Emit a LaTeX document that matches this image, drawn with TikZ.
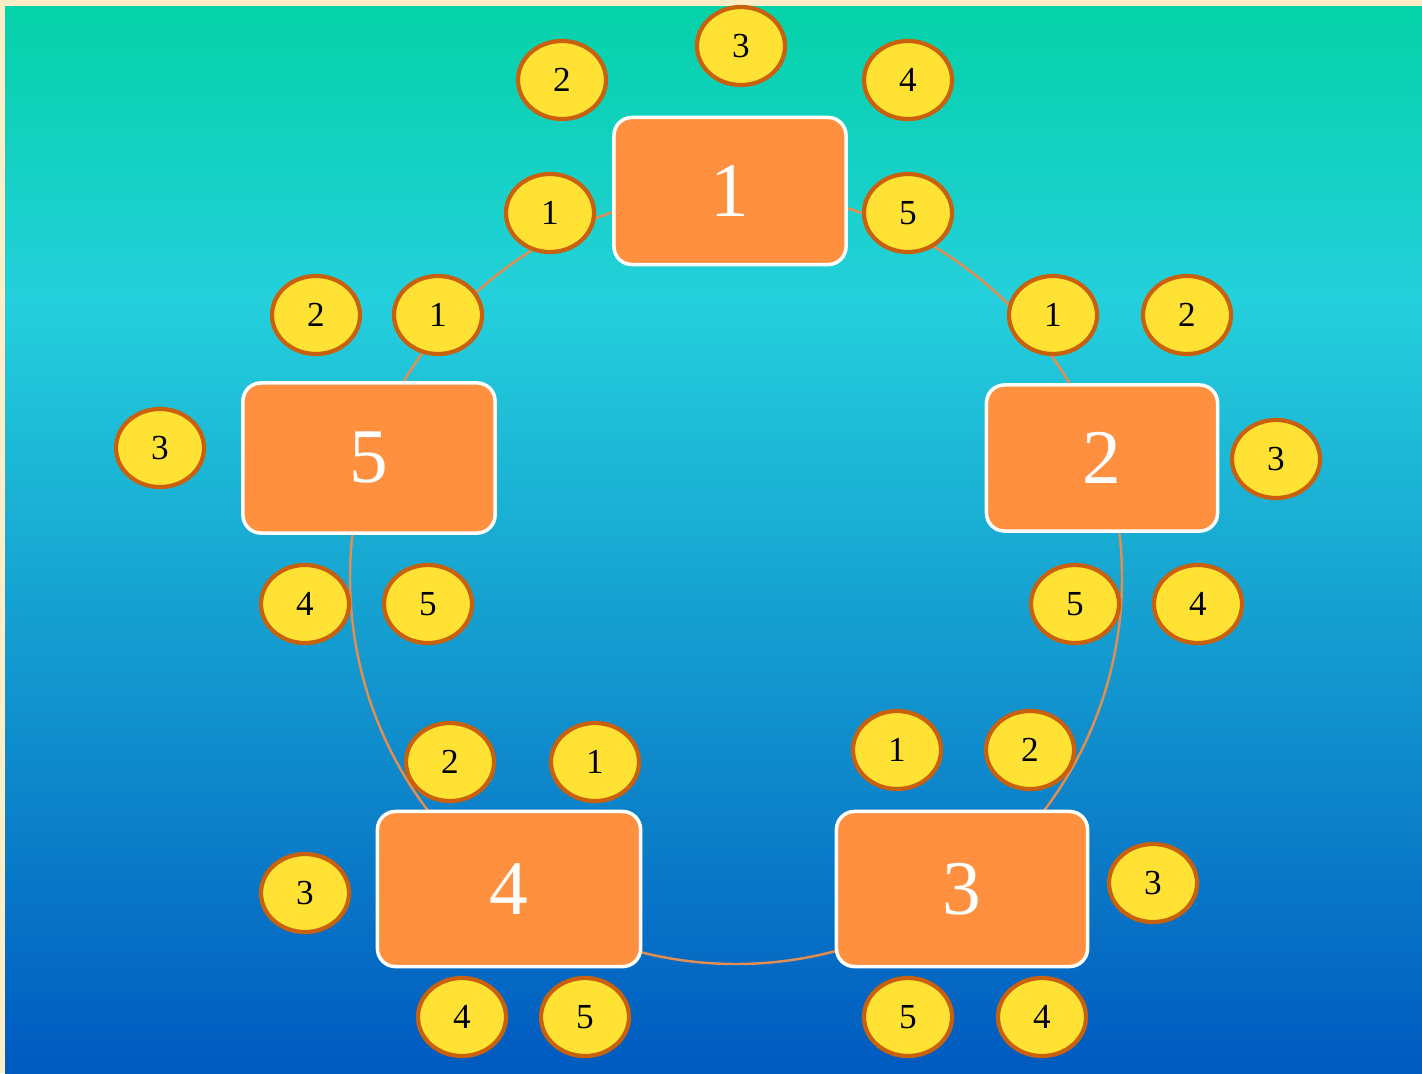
\documentclass[tikz,border=0pt]{standalone}
\usepackage{fontspec}
\setmainfont{Liberation Serif}
\usetikzlibrary{shapes.geometric}

\definecolor{cream}{RGB}{253,238,200}
\definecolor{bgtop}{RGB}{4,210,168}
\definecolor{bgmid}{RGB}{36,208,220}
\definecolor{bgbot}{RGB}{0,90,192}
\definecolor{tableorange}{RGB}{255,144,64}
\definecolor{seatyellow}{RGB}{255,226,52}
\definecolor{seatrim}{RGB}{200,96,12}
\definecolor{ringtan}{RGB}{226,142,80}

\begin{document}
\begin{tikzpicture}[
    x=0.01cm, y=-0.01cm,
    tablebox/.style={rectangle, draw=white, line width=1pt, fill=tableorange, rounded corners=0.18cm, text=white, font=\fontsize{22}{22}\selectfont},
    seat/.style={ellipse, draw=seatrim, line width=1.2pt, fill=seatyellow, minimum width=0.88cm, minimum height=0.78cm, inner sep=0pt, font=\fontsize{10}{10}\selectfont},
    ring/.style={draw=ringtan, line width=0.7pt}
]

% Background
\fill[cream] (0,0) rectangle (1422,1073);
\shade[top color=bgtop, bottom color=bgmid] (5,7) rectangle (1422,300);
\shade[top color=bgmid, bottom color=bgbot] (5,299) rectangle (1422,1073);

% Ring through the tables
\coordinate (centre) at (736,578);
\draw[ring] (centre) circle[radius=386];

% Tables
\node[tablebox, minimum width=2.32cm, minimum height=1.47cm] (table1) at (730,191) {1};
\node[tablebox, minimum width=2.31cm, minimum height=1.46cm] (table2) at (1102,458) {2};
\node[tablebox, minimum width=2.51cm, minimum height=1.55cm] (table3) at (962,889) {3};
\node[tablebox, minimum width=2.63cm, minimum height=1.55cm] (table4) at (509,889) {4};
\node[tablebox, minimum width=2.52cm, minimum height=1.50cm] (table5) at (369,458) {5};

% Seats at table 1
\node[seat] (s1a) at (550,213) {1};
\node[seat] (s1b) at (562,80) {2};
\node[seat] (s1c) at (741,46) {3};
\node[seat] (s1d) at (908,80) {4};
\node[seat] (s1e) at (908,213) {5};

% Seats at table 2
\node[seat] (s2a) at (1053,315) {1};
\node[seat] (s2b) at (1187,315) {2};
\node[seat] (s2c) at (1276,459) {3};
\node[seat] (s2d) at (1198,604) {4};
\node[seat] (s2e) at (1075,604) {5};

% Seats at table 3
\node[seat] (s3a) at (897,750) {1};
\node[seat] (s3b) at (1030,750) {2};
\node[seat] (s3c) at (1153,883) {3};
\node[seat] (s3d) at (1042,1017) {4};
\node[seat] (s3e) at (908,1017) {5};

% Seats at table 4
\node[seat] (s4a) at (595,762) {1};
\node[seat] (s4b) at (450,762) {2};
\node[seat] (s4c) at (305,893) {3};
\node[seat] (s4d) at (462,1017) {4};
\node[seat] (s4e) at (585,1017) {5};

% Seats at table 5
\node[seat] (s5a) at (438,315) {1};
\node[seat] (s5b) at (316,315) {2};
\node[seat] (s5c) at (160,448) {3};
\node[seat] (s5d) at (305,604) {4};
\node[seat] (s5e) at (428,604) {5};

\end{tikzpicture}
\end{document}
